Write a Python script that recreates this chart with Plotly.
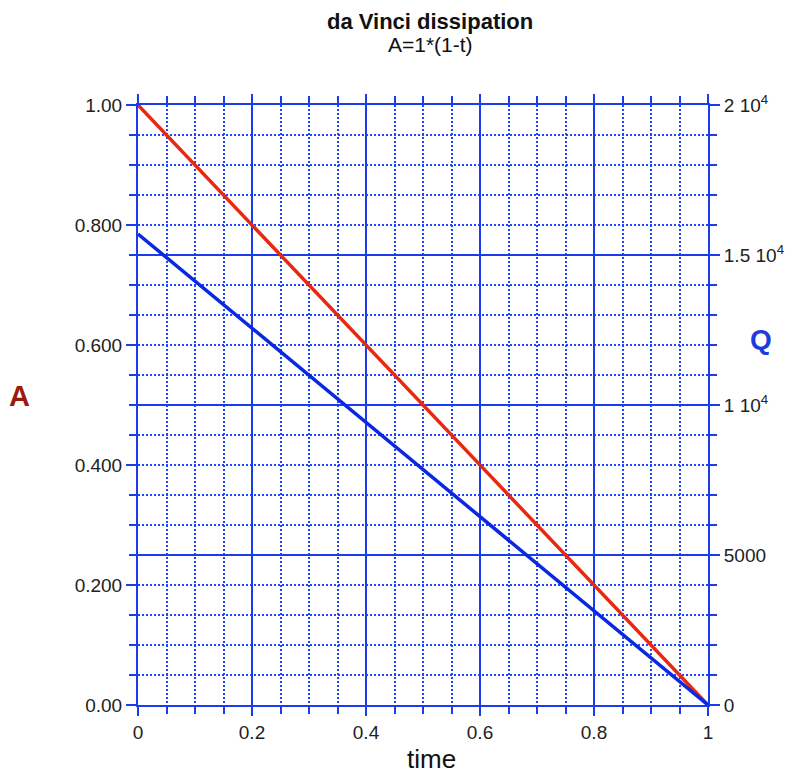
import plotly.graph_objects as go

# Data
time = [0.0, 0.2, 0.4, 0.6, 0.8, 1.0]
A_vals = [1.0, 0.8, 0.6, 0.4, 0.2, 0.0]
Q_vals = [15700, 12560, 9420, 6280, 3140, 0]

x_tickvals = [0, 0.2, 0.4, 0.6, 0.8, 1]
x_ticktext = ["0", "0.2", "0.4", "0.6", "0.8", "1"]
a_tickvals = [0, 0.2, 0.4, 0.6, 0.8, 1.0]
a_ticktext = ["0.00", "0.200", "0.400", "0.600", "0.800", "1.00"]
q_tickvals = [0, 5000, 10000, 15000, 20000]
q_ticktext = ["0", "5000", "1 10<sup>4</sup>", "1.5 10<sup>4</sup>", "2 10<sup>4</sup>"]

BLUE = "#1a3cf0"
MINOR = "#1e46ff"
RED = "#e8280f"
FONT = "Liberation Sans, Arial, sans-serif"
TICKFONT = dict(size=19, color="#222")

fig = go.Figure()
fig.add_trace(go.Scatter(x=time, y=Q_vals, mode="lines", yaxis="y2",
                         line=dict(color="#0a28e0", width=3.5), showlegend=False))
fig.add_trace(go.Scatter(x=time, y=A_vals, mode="lines", yaxis="y",
                         line=dict(color=RED, width=3.5), showlegend=False))

minor_grid = dict(ticks="outside", ticklen=7, tickwidth=1.5, tickcolor=BLUE,
                  showgrid=True, gridcolor=MINOR, griddash="2px,2px", gridwidth=1.5)

fig.update_layout(
    width=787, height=774,
    margin=dict(l=138, r=79, t=105, b=69, autoexpand=False),
    paper_bgcolor="white", plot_bgcolor="white",
    font=dict(family=FONT, size=14, color="#222"),
    xaxis=dict(range=[0, 1], tickmode="array", tickvals=x_tickvals, ticktext=x_ticktext,
               showline=True, linecolor=BLUE, linewidth=2, mirror="ticks", automargin=False,
               ticks="outside", ticklen=9, tickwidth=2, tickcolor=BLUE,
               showgrid=True, gridcolor=BLUE, gridwidth=1.6, zeroline=False,
               minor=dict(tickmode="linear", tick0=0, dtick=0.05, **minor_grid),
               tickfont=TICKFONT),
    yaxis=dict(range=[0, 1], tickmode="array", tickvals=a_tickvals, ticktext=a_ticktext,
               showline=True, linecolor=BLUE, linewidth=2, automargin=False,
               ticks="outside", ticklen=10, tickwidth=2, tickcolor=BLUE,
               showgrid=False, zeroline=False,
               minor=dict(tickmode="linear", tick0=0, dtick=0.05, ticks="outside", ticklen=7,
                          tickwidth=1.5, tickcolor=BLUE, showgrid=False),
               tickfont=TICKFONT),
    yaxis2=dict(range=[0, 20000], overlaying="y", side="right", automargin=False,
                tickmode="array", tickvals=q_tickvals, ticktext=q_ticktext,
                showline=True, linecolor=BLUE, linewidth=2,
                ticks="outside", ticklen=10, tickwidth=2, tickcolor=BLUE,
                showgrid=True, gridcolor=BLUE, gridwidth=1.6, zeroline=False,
                minor=dict(tickmode="linear", tick0=0, dtick=1000, **minor_grid),
                tickfont=TICKFONT),
)

# annotations placed by pixel position -> paper coords
W, H = 787, 774
l, r, t, b = 138, 79, 105, 69
pw, ph = W - l - r, H - t - b
labels = [
    ("<b>da Vinci dissipation</b>", 430, 22, 22, "#111"),
    ("A=1*(1-t)", 430, 45, 21, "#111"),
    ("<b>A</b>", 19, 396, 29, "#9b1b0b"),
    ("<b>Q</b>", 761, 339, 28, "#1c3ce0"),
    ("time", 431, 759, 26, "#111"),
]
for text, px, py, size, color in labels:
    fig.add_annotation(text=text, x=(px - l) / pw, y=(H - b - py) / ph,
                       xref="paper", yref="paper", showarrow=False,
                       xanchor="center", yanchor="middle",
                       font=dict(size=size, color=color, family=FONT))

fig.write_html("out.html")
